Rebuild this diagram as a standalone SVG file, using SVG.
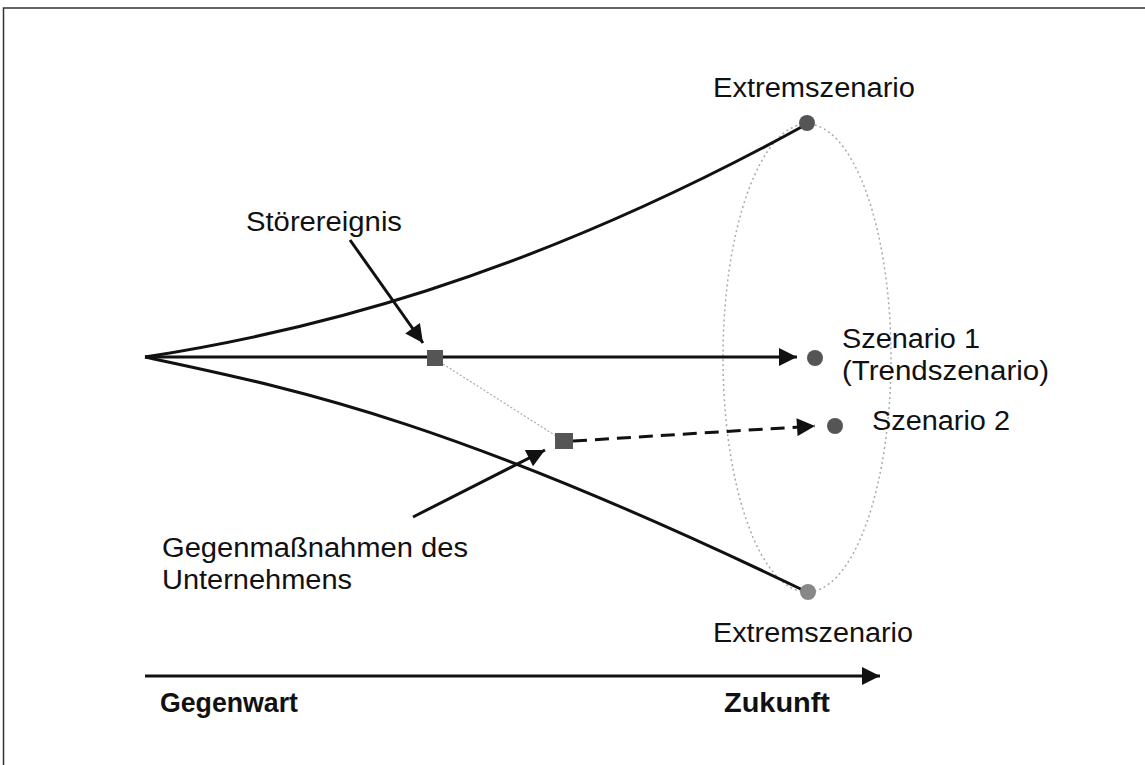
<svg xmlns="http://www.w3.org/2000/svg" width="1145" height="765" viewBox="0 0 1145 765">
<defs>
<style>
.lbl{font-family:"Liberation Sans",Arial,sans-serif;font-size:27px;fill:#111}
.bold{font-family:"Liberation Sans",Arial,sans-serif;font-size:27px;font-weight:bold;fill:#111}
.solid{fill:none;stroke:#111;stroke-width:3}
.dot{fill:none;stroke:#aaa;stroke-width:1.5;stroke-dasharray:2 3}
.pt{fill:#555}
.sq{fill:#555}
</style>
<marker id="ah" viewBox="0 0 10 10" refX="10" refY="5" markerWidth="7" markerHeight="6" markerUnits="strokeWidth" orient="auto">
<path d="M0,0 L10,5 L0,10 Z" fill="#111"/>
</marker>
</defs>
<rect width="1145" height="765" fill="#fff"/>
<path d="M3.5,765 V8 H1145" fill="none" stroke="#333" stroke-width="1.5"/>

<g id="connectors">
<path class="dot" d="M807,124 A84,234 0 0 0 807,592 A84,234 0 0 0 807,124 Z"/>
<path class="solid" d="M145,357 C300,333 520,282 807,124"/>
<path class="solid" d="M145,357 C300,390 450,420 807,592"/>
<line class="solid" x1="145" y1="357" x2="797" y2="357" marker-end="url(#ah)"/>
<line x1="443" y1="364" x2="556" y2="436" stroke="#aaa" stroke-width="1.2" stroke-dasharray="2 2"/>
<line class="solid" x1="573" y1="441" x2="815" y2="426" stroke-dasharray="14 8" marker-end="url(#ah)"/>
<line class="solid" x1="350" y1="240" x2="423" y2="343" marker-end="url(#ah)"/>
<line class="solid" x1="413" y1="517" x2="545" y2="450" marker-end="url(#ah)"/>
<line class="solid" x1="145" y1="676" x2="880" y2="676" marker-end="url(#ah)"/>
</g>

<g id="extrem-top"><circle class="pt" cx="807" cy="123" r="8"/><text class="lbl" x="713" y="97" textLength="202" lengthAdjust="spacingAndGlyphs">Extremszenario</text></g>
<g id="extrem-bottom"><circle cx="808" cy="592" r="8" fill="#888"/><text class="lbl" x="713" y="642" textLength="200" lengthAdjust="spacingAndGlyphs">Extremszenario</text></g>
<g id="szenario1"><circle class="pt" cx="815" cy="358" r="8"/><text class="lbl" x="842" y="348" textLength="138" lengthAdjust="spacingAndGlyphs">Szenario 1</text><text class="lbl" x="842" y="380" textLength="207" lengthAdjust="spacingAndGlyphs">(Trendszenario)</text></g>
<g id="szenario2"><circle class="pt" cx="835" cy="426" r="8"/><text class="lbl" x="872" y="430" textLength="138" lengthAdjust="spacingAndGlyphs">Szenario 2</text></g>
<g id="stoerereignis"><rect class="sq" x="427" y="350" width="16" height="16"/><text class="lbl" x="246" y="231" textLength="156" lengthAdjust="spacingAndGlyphs">Störereignis</text></g>
<g id="gegenmassnahmen"><rect class="sq" x="555" y="433" width="18" height="16"/><text class="lbl" x="162" y="557" textLength="306" lengthAdjust="spacingAndGlyphs">Gegenmaßnahmen des</text><text class="lbl" x="162" y="589" textLength="190" lengthAdjust="spacingAndGlyphs">Unternehmens</text></g>
<g id="gegenwart"><text class="bold" x="160" y="712" textLength="138" lengthAdjust="spacingAndGlyphs">Gegenwart</text></g>
<g id="zukunft"><text class="bold" x="724" y="712" textLength="106" lengthAdjust="spacingAndGlyphs">Zukunft</text></g>
</svg>
